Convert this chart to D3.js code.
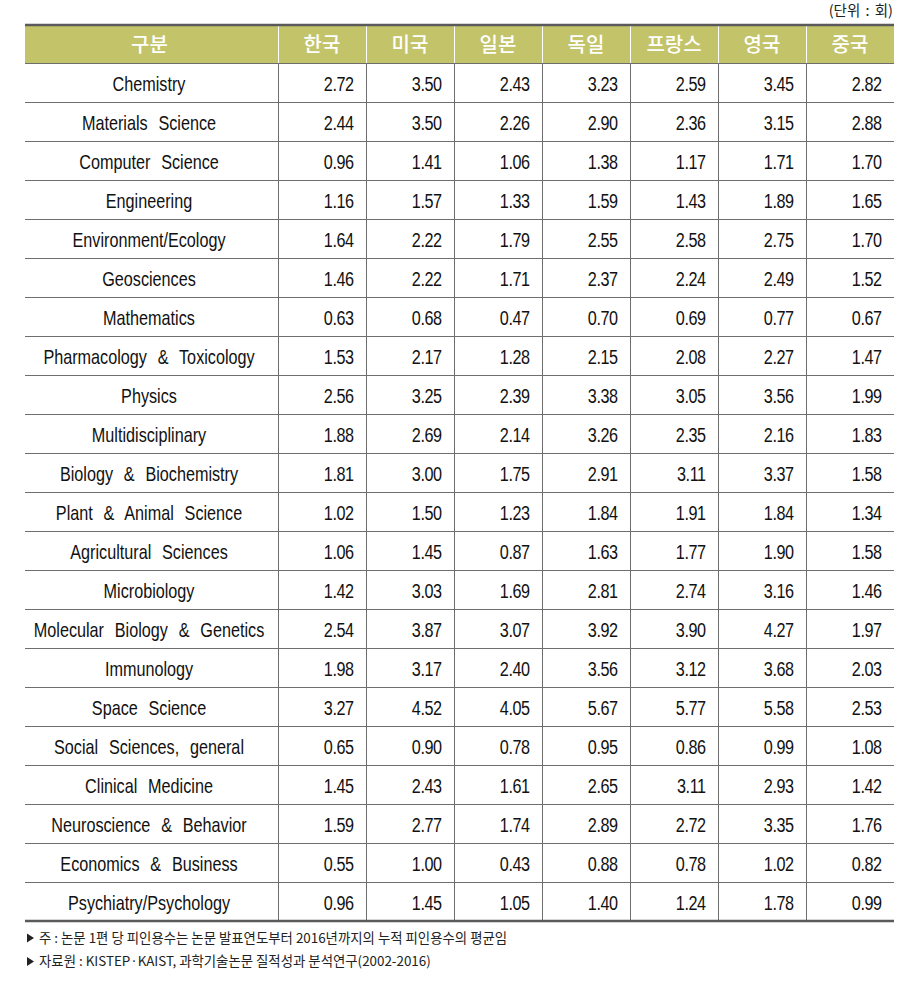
<!DOCTYPE html>
<html><head><meta charset="utf-8">
<script src="https://cdn.jsdelivr.net/npm/d3@7"></script>
<style>
html,body{margin:0;padding:0;background:#fff;}
svg{display:block;}
</style></head>
<body>
<script>
const unitLabel = "(단위 : 회)";
const headerFirst = "구분";
const countries = ["한국","미국","일본","독일","프랑스","영국","중국"];
const categories = ["Chemistry","Materials Science","Computer Science","Engineering","Environment/Ecology","Geosciences","Mathematics","Pharmacology & Toxicology","Physics","Multidisciplinary","Biology & Biochemistry","Plant & Animal Science","Agricultural Sciences","Microbiology","Molecular Biology & Genetics","Immunology","Space Science","Social Sciences, general","Clinical Medicine","Neuroscience & Behavior","Economics & Business","Psychiatry/Psychology"];
const korea   = [2.72,2.44,0.96,1.16,1.64,1.46,0.63,1.53,2.56,1.88,1.81,1.02,1.06,1.42,2.54,1.98,3.27,0.65,1.45,1.59,0.55,0.96];
const usa     = [3.50,3.50,1.41,1.57,2.22,2.22,0.68,2.17,3.25,2.69,3.00,1.50,1.45,3.03,3.87,3.17,4.52,0.90,2.43,2.77,1.00,1.45];
const japan   = [2.43,2.26,1.06,1.33,1.79,1.71,0.47,1.28,2.39,2.14,1.75,1.23,0.87,1.69,3.07,2.40,4.05,0.78,1.61,1.74,0.43,1.05];
const germany = [3.23,2.90,1.38,1.59,2.55,2.37,0.70,2.15,3.38,3.26,2.91,1.84,1.63,2.81,3.92,3.56,5.67,0.95,2.65,2.89,0.88,1.40];
const france  = [2.59,2.36,1.17,1.43,2.58,2.24,0.69,2.08,3.05,2.35,3.11,1.91,1.77,2.74,3.90,3.12,5.77,0.86,3.11,2.72,0.78,1.24];
const uk      = [3.45,3.15,1.71,1.89,2.75,2.49,0.77,2.27,3.56,2.16,3.37,1.84,1.90,3.16,4.27,3.68,5.58,0.99,2.93,3.35,1.02,1.78];
const china   = [2.82,2.88,1.70,1.65,1.70,1.52,0.67,1.47,1.99,1.83,1.58,1.34,1.58,1.46,1.97,2.03,2.53,1.08,1.42,1.76,0.82,0.99];
const series = [korea,usa,japan,germany,france,uk,china];
const notes = ["주 : 논문 1편 당 피인용수는 논문 발표연도부터 2016년까지의 누적 피인용수의 평균임",
               "자료원 : KISTEP·KAIST, 과학기술논문 질적성과 분석연구(2002-2016)"];

const W = 903, H = 993;
const left = 25, firstColRight = 278, right = 894;
const headTop = 25, headBottom = 63, tableBottom = 921;
const headerColor = "#c3c469";
const lineColor = "#6e6e6e";
const latin = "'Liberation Sans',Arial,sans-serif";
const kr = "'Noto Sans CJK KR','Noto Sans CJK SC',sans-serif";
const SX = 0.79;

const svg = d3.select("body").append("svg").attr("width", W).attr("height", H);

const x = d3.scaleBand().domain(countries).range([firstColRight, right]);
const y = d3.scaleBand().domain(categories).range([headBottom, tableBottom]);

// header
svg.append("rect").attr("x", left).attr("y", headTop).attr("width", right-left).attr("height", headBottom-headTop).attr("fill", headerColor);

// horizontal row lines
svg.append("g").selectAll("line").data(categories.slice(1)).join("line")
  .attr("x1", left).attr("x2", right)
  .attr("y1", d => Math.round(y(d))+0.5).attr("y2", d => Math.round(y(d))+0.5)
  .attr("stroke", lineColor).attr("stroke-width", 1);
svg.append("line").attr("x1", left).attr("x2", right).attr("y1", headBottom+0.5).attr("y2", headBottom+0.5).attr("stroke", lineColor);

// vertical lines
const vx = [firstColRight, ...countries.slice(1).map(c => x(c))];
svg.append("g").selectAll("line.vh").data(vx).join("line")
  .attr("x1", d => Math.round(d)+0.5).attr("x2", d => Math.round(d)+0.5)
  .attr("y1", headTop).attr("y2", headBottom)
  .attr("stroke", "#fff").attr("stroke-width", 1);
svg.append("g").selectAll("line.vb").data(vx).join("line")
  .attr("x1", d => Math.round(d)+0.5).attr("x2", d => Math.round(d)+0.5)
  .attr("y1", headBottom).attr("y2", tableBottom)
  .attr("stroke", lineColor).attr("stroke-width", 1);

// thick top/bottom
svg.append("line").attr("x1", left).attr("x2", right).attr("y1", headTop).attr("y2", headTop).attr("stroke", "#5a5a5a").attr("stroke-width", 2.5);
svg.append("line").attr("x1", left).attr("x2", right).attr("y1", tableBottom).attr("y2", tableBottom).attr("stroke", "#5a5a5a").attr("stroke-width", 2.5);

// header text
const hy = (headTop+headBottom)/2 + 1;
svg.append("text").attr("x", 149.5).attr("y", hy).attr("dy", "0.36em")
  .attr("text-anchor", "middle").attr("fill", "#fff").attr("font-family", kr).attr("font-weight", 500).attr("font-size", 20)
  .text(headerFirst);
svg.append("g").selectAll("text").data(countries).join("text")
  .attr("x", d => x(d) + x.bandwidth()/2).attr("y", hy).attr("dy", "0.36em")
  .attr("text-anchor", "middle").attr("fill", "#fff").attr("font-family", kr).attr("font-weight", 500).attr("font-size", 20)
  .text(d => d);

// category labels (condensed)
svg.append("g").selectAll("text").data(categories).join("text")
  .attr("transform", d => `translate(149,${y(d) + y.bandwidth()/2 + 1}) scale(${SX},1)`)
  .attr("dy", "0.35em")
  .attr("text-anchor", "middle").attr("fill", "#111").attr("font-family", latin).attr("font-size", 20.5)
  .attr("word-spacing", 8)
  .text(d => d);

// values
countries.forEach((c, ci) => {
  svg.append("g").selectAll("text").data(series[ci]).join("text")
    .attr("transform", (d, i) => `translate(${x(c) + x.bandwidth() - 12.5},${y(categories[i]) + y.bandwidth()/2 + 1}) scale(${SX},1)`)
    .attr("dy", "0.35em")
    .attr("text-anchor", "end").attr("fill", "#111").attr("font-family", latin).attr("font-size", 20.5)
    .attr("letter-spacing", -0.6)
    .text(d => d.toFixed(2));
});

// unit
svg.append("text").attr("x", right - 1).attr("y", 10.5).attr("dy", "0.35em").attr("text-anchor", "end")
  .attr("font-family", kr).attr("font-size", 14.5).attr("fill", "#222").attr("word-spacing", 2).text(unitLabel);

// notes
const ng = svg.append("g").selectAll("g").data(notes).join("g")
  .attr("transform", (d, i) => `translate(${left + 1},${938 + i*23.5})`);
ng.append("path").attr("d", "M1,-4.5 L8,0 L1,4.5 Z").attr("fill", "#222");
ng.append("text").attr("x", 13).attr("dy", "0.35em")
  .attr("font-family", kr).attr("font-size", 13.4).attr("fill", "#222").text(d => d);
</script>
</body></html>
